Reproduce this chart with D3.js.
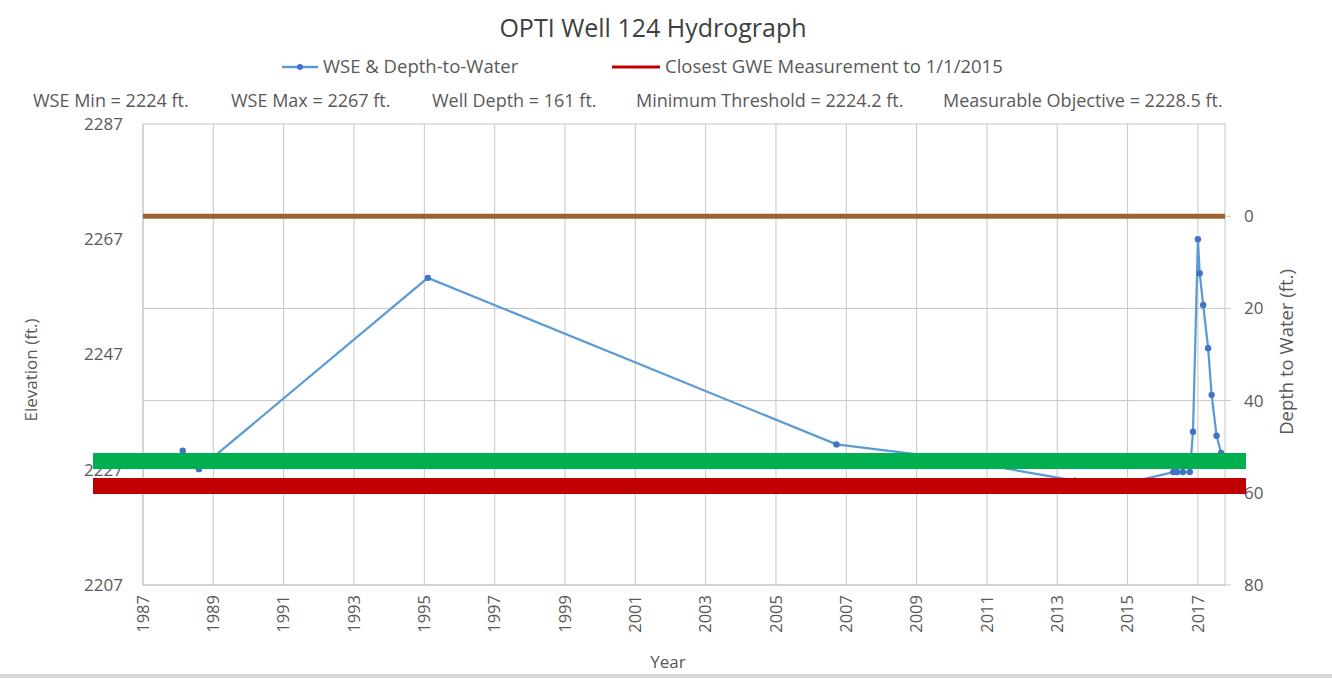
<!DOCTYPE html>
<html>
  <meta charset="utf-8" />
  <style>
    body {
      margin: 0;
      background: #fff;
    }
    text {
      font-family: "Open Sans", sans-serif;
      fill: #595959;
    }
    .grid line {
      stroke: #c6c6c6;
      stroke-width: 1;
    }
  </style>
  <body>
    <script src="https://d3js.org/d3.v7.min.js"></script>
    <script>
      // measurements (decimal year, water surface elevation ft.)
      let years = [
        1988.13, 1988.59, 1995.1, 2006.72, 2009.66, 2011.08, 2013.5, 2014.5,
        2016.3, 2016.4, 2016.57, 2016.77, 2016.86, 2017.0, 2017.05, 2017.15,
        2017.29, 2017.39, 2017.53, 2017.66,
      ];
      let wse = [
        2230.3, 2227.1, 2260.3, 2231.4, 2229.2, 2227.7, 2225.1, 2224.0, 2226.6,
        2226.6, 2226.6, 2226.6, 2233.6, 2267.0, 2261.1, 2255.6, 2248.1, 2240.0,
        2232.9, 2229.9,
      ];

      let groundDepth = 0;
      let measurableObjective = 2228.5;
      let minimumThreshold = 2224.2;

      let yearTicks = d3.range(1987, 2018, 2);
      let elevTicks = [2207, 2227, 2247, 2267, 2287];
      let depthTicks = [0, 20, 40, 60, 80];

      let legendLabels = [
        "WSE & Depth-to-Water",
        "Closest GWE Measurement to 1/1/2015",
      ];
      let statLabels = [
        "WSE Min = 2224 ft.",
        "WSE Max = 2267 ft.",
        "Well Depth = 161 ft.",
        "Minimum Threshold = 2224.2 ft.",
        "Measurable Objective = 2228.5 ft.",
      ];
      let statX = [33, 231, 432, 636, 943];

      let width = 1332,
        height = 678;
      let plotLeft = 143,
        plotRight = 1225,
        plotTop = 124,
        plotBottom = 585;

      let x = d3.scaleLinear().domain([1987, 2017.77]).range([plotLeft, plotRight]);
      let yElev = d3.scaleLinear().domain([2207, 2287]).range([plotBottom, plotTop]);
      let yDepth = d3.scaleLinear().domain([-20, 80]).range([plotTop, plotBottom]);

      let svg = d3
        .select("body")
        .append("svg")
        .attr("width", width)
        .attr("height", height);

      // bottom frame edge
      svg
        .append("rect")
        .attr("x", 0)
        .attr("y", height - 4)
        .attr("width", width)
        .attr("height", 4)
        .attr("fill", "#d9d9d9");

      function drawGrid() {
        let g = svg.append("g").attr("class", "grid");

        g.selectAll(".v")
          .data(yearTicks)
          .join("line")
          .attr("x1", (d) => x(d))
          .attr("x2", (d) => x(d))
          .attr("y1", plotTop)
          .attr("y2", plotBottom);

        g.selectAll(".h")
          .data(depthTicks)
          .join("line")
          .attr("x1", plotLeft)
          .attr("x2", plotRight)
          .attr("y1", (d) => yDepth(d))
          .attr("y2", (d) => yDepth(d));

        g.append("rect")
          .attr("x", plotLeft)
          .attr("y", plotTop)
          .attr("width", plotRight - plotLeft)
          .attr("height", plotBottom - plotTop)
          .attr("fill", "none")
          .attr("stroke", "#c6c6c6");
      }

      function drawAxes() {
        // left axis labels
        svg
          .append("g")
          .selectAll("text")
          .data(elevTicks)
          .join("text")
          .attr("x", plotLeft - 20)
          .attr("y", (d) => yElev(d))
          .attr("dy", "0.35em")
          .attr("text-anchor", "end")
          .style("font-size", "17px")
          .text((d) => d);

        // right axis with tick marks
        let r = svg.append("g");
        r.selectAll("line")
          .data(depthTicks)
          .join("line")
          .attr("x1", plotRight)
          .attr("x2", plotRight + 6)
          .attr("y1", (d) => yDepth(d))
          .attr("y2", (d) => yDepth(d))
          .attr("stroke", "#c6c6c6");
        r.selectAll("text")
          .data(depthTicks)
          .join("text")
          .attr("x", plotRight + 19)
          .attr("y", (d) => yDepth(d))
          .attr("dy", "0.35em")
          .style("font-size", "17px")
          .text((d) => d);

        // year labels, rotated
        svg
          .append("g")
          .selectAll("text")
          .data(yearTicks)
          .join("text")
          .attr(
            "transform",
            (d) => "translate(" + x(d) + "," + (plotBottom + 10) + ") rotate(-90)"
          )
          .attr("dy", "0.35em")
          .attr("text-anchor", "end")
          .style("font-size", "16.5px")
          .text((d) => d);

        svg
          .append("text")
          .attr("x", 668)
          .attr("y", 668)
          .attr("text-anchor", "middle")
          .style("font-size", "17px")
          .text("Year");

        svg
          .append("text")
          .attr("transform", "translate(31,370) rotate(-90)")
          .attr("dy", "0.35em")
          .attr("text-anchor", "middle")
          .style("font-size", "17px")
          .text("Elevation (ft.)");

        svg
          .append("text")
          .attr("transform", "translate(1287,352) rotate(-90)")
          .attr("dy", "0.35em")
          .attr("text-anchor", "middle")
          .style("font-size", "18.5px")
          .text("Depth to Water (ft.)");
      }

      function drawHeader() {
        svg
          .append("text")
          .attr("x", 653)
          .attr("y", 37)
          .attr("text-anchor", "middle")
          .style("font-size", "25px")
          .style("fill", "#404040")
          .text("OPTI Well 124 Hydrograph");

        // legend
        svg
          .append("line")
          .attr("x1", 282)
          .attr("x2", 318)
          .attr("y1", 67)
          .attr("y2", 67)
          .attr("stroke", "#5b9bd5")
          .attr("stroke-width", 2.5);
        svg
          .append("circle")
          .attr("cx", 300)
          .attr("cy", 67)
          .attr("r", 3)
          .attr("fill", "#4472c4");
        svg
          .append("text")
          .attr("x", 323)
          .attr("y", 67)
          .attr("dy", "0.35em")
          .style("font-size", "18.5px")
          .text(legendLabels[0]);

        svg
          .append("line")
          .attr("x1", 612)
          .attr("x2", 660)
          .attr("y1", 67)
          .attr("y2", 67)
          .attr("stroke", "#c00000")
          .attr("stroke-width", 3);
        svg
          .append("text")
          .attr("x", 665)
          .attr("y", 67)
          .attr("dy", "0.35em")
          .style("font-size", "18.5px")
          .text(legendLabels[1]);

        svg
          .append("g")
          .selectAll("text")
          .data(statLabels)
          .join("text")
          .attr("x", (d, i) => statX[i])
          .attr("y", 101)
          .attr("dy", "0.35em")
          .style("font-size", "18px")
          .text((d) => d);
      }

      function drawSeries() {
        let pts = years.map((d, i) => [d, wse[i]]);

        // ground surface
        svg
          .append("line")
          .attr("x1", plotLeft)
          .attr("x2", plotRight)
          .attr("y1", yDepth(groundDepth))
          .attr("y2", yDepth(groundDepth))
          .attr("stroke", "#9c6230")
          .attr("stroke-width", 5);

        let line = d3
          .line()
          .x((d) => x(d[0]))
          .y((d) => yElev(d[1]));

        svg
          .append("path")
          .datum(pts)
          .attr("d", line)
          .attr("fill", "none")
          .attr("stroke", "#5b9bd5")
          .attr("stroke-width", 2.25);

        svg
          .append("g")
          .selectAll("circle")
          .data(pts)
          .join("circle")
          .attr("cx", (d) => x(d[0]))
          .attr("cy", (d) => yElev(d[1]))
          .attr("r", 3.2)
          .attr("fill", "#4472c4");

        // threshold bands, drawn past the plot edges
        svg
          .append("line")
          .attr("x1", plotLeft - 50)
          .attr("x2", plotRight + 21)
          .attr("y1", yElev(measurableObjective))
          .attr("y2", yElev(measurableObjective))
          .attr("stroke", "#00b050")
          .attr("stroke-width", 16);

        svg
          .append("line")
          .attr("x1", plotLeft - 50)
          .attr("x2", plotRight + 21)
          .attr("y1", yElev(minimumThreshold))
          .attr("y2", yElev(minimumThreshold))
          .attr("stroke", "#c00000")
          .attr("stroke-width", 16);
      }

      drawGrid();
      drawAxes();
      drawSeries();
      drawHeader();
    </script>
  </body>
</html>
